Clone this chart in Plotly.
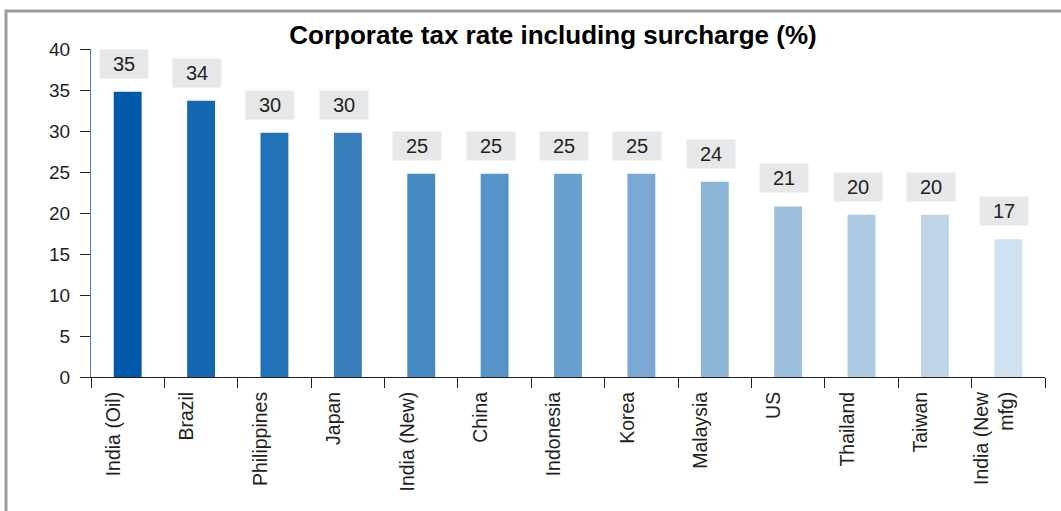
import plotly.graph_objects as go

categories = ["India (Oil)", "Brazil", "Philippines", "Japan", "India (New)", "China",
              "Indonesia", "Korea", "Malaysia", "US", "Thailand", "Taiwan", "India (New<br>mfg)"]
values = [34.8, 33.7, 29.8, 29.8, 24.8, 24.8, 24.8, 24.8, 23.8, 20.8, 19.8, 19.8, 16.8]
labels = ["35", "34", "30", "30", "25", "25", "25", "25", "24", "21", "20", "20", "17"]
colors = ["#0059a8", "#1366b0", "#2272b7", "#387ebb", "#4689c3", "#5593c8", "#6b9fcd",
          "#7aa8d2", "#8bb5d7", "#9cc0de", "#adcae4", "#bfd4e9", "#d0e1ef"]
y_ticks = [0, 5, 10, 15, 20, 25, 30, 35, 40]

FONT = "Liberation Sans, Arial, Helvetica, sans-serif"
TXT = "#231f20"

fig = go.Figure()
fig.add_trace(go.Bar(x=categories, y=values, marker=dict(color=colors, line=dict(width=0)),
                     hoverinfo="skip"))

for c, v, t in zip(categories, values, labels):
    fig.add_annotation(x=c, y=v, text=t, showarrow=False, yanchor="bottom", yshift=13, xshift=-4,
                       bgcolor="#e6e7e8", width=44, height=24, borderpad=2,
                       font=dict(family=FONT, size=20, color=TXT))

# outer grey frame
fig.add_shape(type="rect", xref="paper", yref="paper", x0=-0.0891, x1=1.2, y0=-0.6, y1=1.1159,
              line=dict(color="#9d9d9d", width=3), layer="below")

fig.update_layout(
    width=1061, height=511,
    margin=dict(l=91, r=16, t=49, b=134),
    paper_bgcolor="white", plot_bgcolor="white",
    font=dict(family=FONT, size=19, color=TXT),
    bargap=0.62,
    showlegend=False,
    title=dict(text="<b>Corporate tax rate including surcharge (%)</b>", x=553/1061, xanchor="center",
               y=1 - 35/511, yanchor="middle", font=dict(family=FONT, size=26, color="#000000")),
    xaxis=dict(showline=True, linecolor="#231f20", linewidth=1, ticks="outside", ticklen=10,
               tickcolor="#231f20", tickson="boundaries", tickangle=-90, showgrid=False,
               tickfont=dict(family=FONT, size=19.5, color=TXT), ticklabelshift=-14,
               ticklabelstandoff=6),
    yaxis=dict(range=[0, 40], tickvals=y_ticks, showline=True, linecolor="#4a7ebb", linewidth=1,
               ticks="outside", ticklen=10, tickcolor="#231f20", showgrid=False, zeroline=False,
               tickfont=dict(family=FONT, size=19, color=TXT), ticklabelstandoff=6),
)

fig.write_html("out.html")
